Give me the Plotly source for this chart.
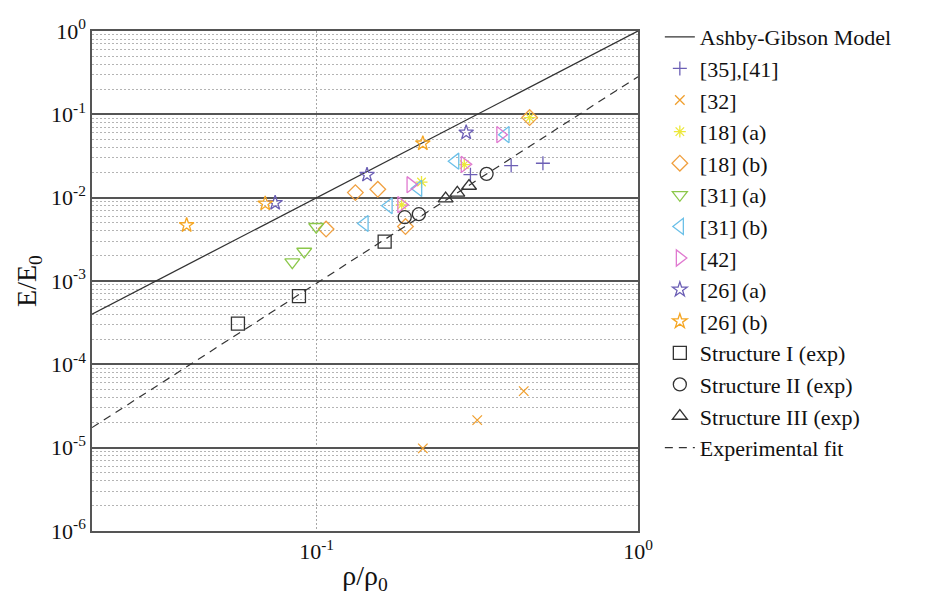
import plotly.graph_objects as go

# ---- data ---------------------------------------------------------------
# Ashby-Gibson model line, E/E0 = (rho/rho0)^2, given by its end points
ag_x = [0.02, 1.0]
ag_y = [4.0e-4, 1.0]

# experimental power-law fit, end points
fit_x = [0.02, 1.0]
fit_y = [1.74e-5, 0.283]

ref3541_x = [0.301, 0.403, 0.506]
ref3541_y = [0.0189, 0.0243, 0.0259]

ref32_x = [0.214, 0.316, 0.441]
ref32_y = [9.8e-6, 2.14e-5, 4.77e-5]

ref18a_x = [0.184, 0.212, 0.288, 0.460]
ref18a_y = [0.0082, 0.0154, 0.0249, 0.0914]

ref18b_x = [0.107, 0.132, 0.155, 0.189, 0.460]
ref18b_y = [0.0042, 0.0115, 0.0126, 0.0045, 0.0914]

ref31a_x = [0.084, 0.0915, 0.0997]
ref31a_y = [0.00168, 0.00226, 0.00448]

ref31b_x = [0.141, 0.1675, 0.207, 0.270, 0.387]
ref31b_y = [0.0049, 0.0080, 0.0129, 0.0274, 0.057]

ref42_x = [0.1835, 0.196, 0.289, 0.373]
ref42_y = [0.00825, 0.0143, 0.0251, 0.057]

ref26a_x = [0.0743, 0.1435, 0.292]
ref26a_y = [0.00865, 0.0188, 0.0605]

ref26b_x = [0.0394, 0.0692, 0.214]
ref26b_y = [0.00468, 0.0085, 0.0448]

struct1_x = [0.0569, 0.0881, 0.1628]
struct1_y = [3.08e-4, 6.57e-4, 0.00297]

struct2_x = [0.188, 0.208, 0.338]
struct2_y = [0.00583, 0.00633, 0.0193]

struct3_x = [0.252, 0.274, 0.298]
struct3_y = [0.00973, 0.0114, 0.0138]

y_decades = [-6, -5, -4, -3, -2, -1, 0]
x_decades = [-1, 0]

FONT = "Liberation Serif"
INK = "#111111"

fig = go.Figure()

fig.add_trace(go.Scatter(x=ag_x, y=ag_y, mode="lines", name="Ashby-Gibson Model",
                         line=dict(color="#333333", width=1.3)))


def markers(x, y, name, symbol, color, size, width=1.3):
    fig.add_trace(go.Scatter(
        x=x, y=y, mode="markers", name=name,
        marker=dict(symbol=symbol, size=size, color=color,
                    line=dict(color=color, width=width)),
    ))


markers(ref3541_x, ref3541_y, "[35],[41]", "cross-thin-open", "#6c5fb5", 10)
markers(ref32_x, ref32_y, "[32]", "x-thin-open", "#f0a030", 9.5)
markers(ref18a_x, ref18a_y, "[18] (a)", "asterisk-open", "#ece83a", 10)
markers(ref18b_x, ref18b_y, "[18] (b)", "diamond-open", "#f0a040", 12)
markers(ref31a_x, ref31a_y, "[31] (a)", "triangle-down-open", "#8cc84b", 13)
markers(ref31b_x, ref31b_y, "[31] (b)", "triangle-left-open", "#6cc0e8", 14)
markers(ref42_x, ref42_y, "[42]", "triangle-right-open", "#e07ad0", 14)
markers(ref26a_x, ref26a_y, "[26] (a)", "star-open", "#6c5fb5", 11)
markers(ref26b_x, ref26b_y, "[26] (b)", "star-open", "#f5a623", 11)
markers(struct1_x, struct1_y, "Structure I (exp)", "square-open", "#333333", 13)
markers(struct2_x, struct2_y, "Structure II (exp)", "circle-open", "#333333", 13)
markers(struct3_x, struct3_y, "Structure III (exp)", "triangle-up-open", "#333333", 13)

fig.add_trace(go.Scatter(x=fit_x, y=fit_y, mode="lines", name="Experimental fit",
                         line=dict(color="#333333", width=1.2, dash="8px,6px")))

y_tickvals = [10.0 ** k for k in y_decades]
y_ticktext = ["10<sup>%d</sup>" % k for k in y_decades]
y_minor = [m * 10.0 ** k for k in y_decades[:-1] for m in range(2, 10)]
x_tickvals = [10.0 ** k for k in x_decades]
x_ticktext = ["10<sup>%d</sup>" % k for k in x_decades]

fig.update_layout(
    width=935, height=598,
    margin=dict(l=92, r=297, t=31, b=63),
    paper_bgcolor="white", plot_bgcolor="white",
    font=dict(family=FONT, color=INK, size=22),
    showlegend=True,
    legend=dict(
        x=1.040, y=1.03, xanchor="left", yanchor="top",
        maxheight=590,
        font=dict(family=FONT, size=22, color=INK),
        itemsizing="trace", bgcolor="rgba(0,0,0,0)", borderwidth=0,
    ),
    xaxis=dict(
        type="log", range=[-1.699, 0],
        tickmode="array", tickvals=x_tickvals, ticktext=x_ticktext,
        ticks="", showline=True, mirror=True, linecolor="#555555", linewidth=1.5,
        showgrid=True, gridcolor="#a8a8a8", gridwidth=1, griddash="2px,2px",
        zeroline=False,
        tickfont=dict(family=FONT, size=22, color=INK),
        title=dict(text="ρ/ρ<sub>0</sub>", font=dict(family=FONT, size=28, color=INK),
                   standoff=2),
    ),
    yaxis=dict(
        type="log", range=[-6, 0],
        tickmode="array", tickvals=y_tickvals, ticktext=y_ticktext,
        ticks="", showline=True, mirror=True, linecolor="#555555", linewidth=1.5,
        showgrid=True, gridcolor="#555555", gridwidth=1.5,
        zeroline=False,
        minor=dict(tickmode="array", tickvals=y_minor, ticks="", showgrid=True,
                   gridcolor="#b4b4b4", gridwidth=1, griddash="2px,2px"),
        tickfont=dict(family=FONT, size=22, color=INK),
        title=dict(text="E/E<sub>0</sub>", font=dict(family=FONT, size=28, color=INK),
                   standoff=6),
    ),
)

fig.write_html("out.html")
